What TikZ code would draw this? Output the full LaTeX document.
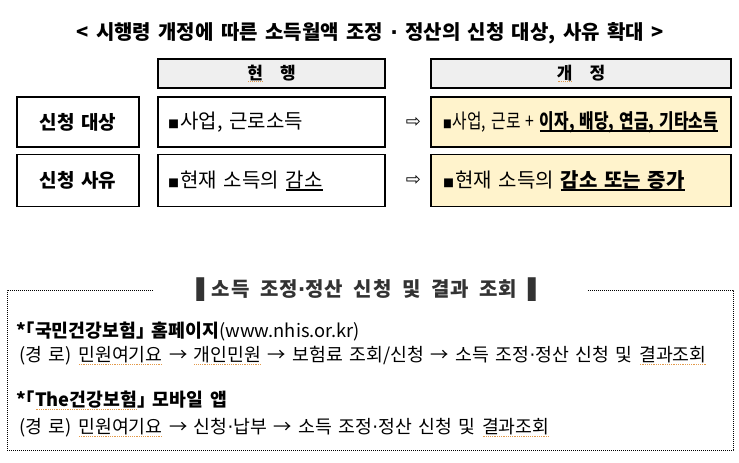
\documentclass[tikz,border=0pt]{standalone}
\usepackage{fontspec}
\usepackage{graphicx}
\setmainfont{Noto Sans CJK KR}[WordSpace=1.6, CharacterWidth=AlternateHalf]
\newfontfamily\spacedfont{Noto Sans CJK KR}[WordSpace=2, LetterSpace=4]
\newfontfamily\symfont{DejaVu Sans}
\usetikzlibrary{positioning}

\definecolor{hdrgray}{HTML}{EFEFEF}
\definecolor{newyellow}{HTML}{FFF3CC}
\definecolor{spellred}{HTML}{E39A4A}
\definecolor{notegray}{HTML}{333333}

\newcommand\sq{{\fontsize{11}{12}\selectfont ■}\hspace{1.5pt}}
\newcommand\mdot{{\symfont ·}}
\newcommand\uln[1]{{\setbox0\hbox{#1}\rlap{\lower3.5pt\hbox{\rule{\wd0}{1.3pt}}}\box0}}
\newcommand\spell[1]{{\setbox0\hbox{#1}\rlap{\color{spellred}\lower3pt\hbox to \wd0{\xleaders\hbox{\kern0.5pt\rule{0.8pt}{0.8pt}\kern0.5pt}\hfill}}\box0}}

\begin{document}
\begin{tikzpicture}[
  x = 1pt, y = -1pt,
  every node/.style = {inner sep = 0pt},
  frame/.style = {draw, line width = 1.5pt},
  hdrbox/.style = {frame, fill = hdrgray, minimum height = 29pt,
                   font = \fontsize{17}{19}\selectfont\bfseries},
  labelbox/.style = {frame, minimum width = 122pt,
                     font = \fontsize{19}{21}\selectfont\bfseries},
  nowbox/.style = {frame, inner xsep = 10pt, text width = 207pt, align = left,
                   font = \fontsize{20}{22}\selectfont},
  newbox/.style = {frame, fill = newyellow, inner xsep = 12pt, text width = 276pt,
                   align = left, font = \fontsize{20}{22}\selectfont},
  turnsym/.style = {font = \symfont\fontsize{18}{18}\selectfont},
  panel/.style = {draw, line width = 0.8pt, dash pattern = on 0.8pt off 1.2pt},
  noteline/.style = {anchor = west, font = \fontsize{18.3}{20}\selectfont},
  ]
  \useasboundingbox (0,0) rectangle (739,463);

  % title
  \node[font = \fontsize{20}{22}\selectfont\bfseries] (title) at (370,33.5)
    {< 시행령 개정에 따른 소득월액 조정 \mdot{} 정산의 신청 대상, 사유 확대 >};

  % comparison table
  \node[hdrbox, minimum width = 227pt] (hdrnow) at (271.5,73.5) {\spell{현}\hspace{1em}행};
  \node[hdrbox, minimum width = 300pt] (hdrnew) at (581,73.5) {\spell{개}\hspace{1em}정};

  \node[labelbox, minimum height = 50pt] (tgtlab) at (78,122) {신청 대상};
  \node[nowbox, minimum height = 50pt] (tgtnow) at (271.5,122) {\sq 사업, 근로소득};
  \node[newbox, minimum height = 50pt] (tgtnew) at (581,122)
    {\scalebox{0.79}[1]{\sq 사업, 근로 + \textbf{\uln{이자, 배당, 연금, 기타소득}}}};
  \node[turnsym, right = 20pt of tgtnow] (tgtturn) {⇨};

  \node[labelbox, minimum height = 52pt] (rsnlab) at (78,180.5) {신청 사유};
  \node[nowbox, minimum height = 52pt] (rsnnow) at (271.5,180.5) {\sq 현재 소득의 \uln{감소}};
  \node[newbox, minimum height = 52pt] (rsnnew) at (581,180.5)
    {\sq 현재 소득의 \textbf{\uln{감소 또는 증가}}};
  \node[turnsym, right = 20pt of rsnnow] (rsnturn) {⇨};

  % how to apply
  \node[panel, minimum width = 726pt, minimum height = 160pt] (panel) at (370,370) {};
  \node[fill = white, minimum width = 434pt, minimum height = 24pt, text = notegray,
        font = \spacedfont\fontsize{20}{22}\selectfont\bfseries] (notetitle) at (panel.north)
    {{\symfont ▌}소득 조정\mdot 정산 신청 및 결과 조회 {\symfont ▌}};

  \node[noteline] (site) at (16,331)
    {\textbf{*「국민건강보험」 홈페이지}(www.nhis.or.kr)};
  \node[noteline] (sitepath) at (19,356)
    {(경 로) \spell{민원여기요} → \spell{개인민원} → 보험료 조회/신청 → 소득 조정\mdot 정산 신청 및 \spell{결과조회}};
  \node[noteline] (app) at (16,400)
    {\textbf{*「\spell{The건강보험}」 모바일 앱}};
  \node[noteline] (apppath) at (19,428)
    {(경 로) \spell{민원여기요} → 신청\mdot 납부 → 소득 조정\mdot 정산 신청 및 \spell{결과조회}};
\end{tikzpicture}
\end{document}
